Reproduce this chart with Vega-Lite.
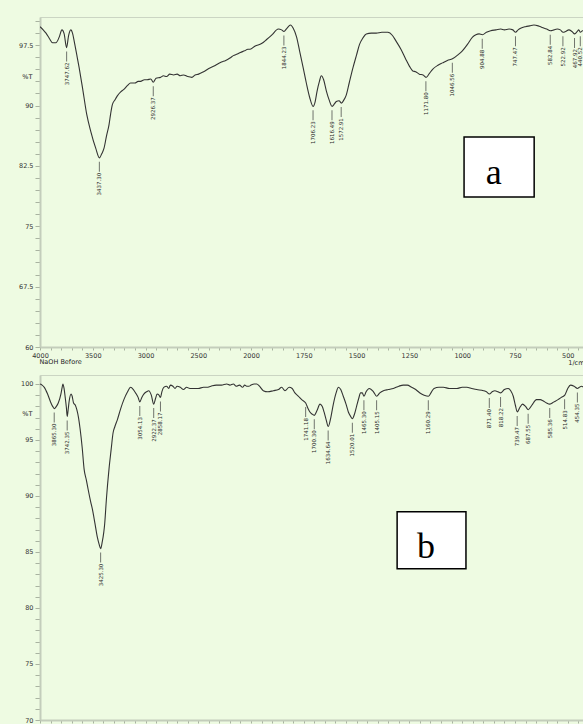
{
  "$schema": "https://vega.github.io/schema/vega-lite/v6.json",
  "padding": {"top": 16, "left": 0, "right": 0, "bottom": 0},
  "spacing": 28,
  "bounds": "flush",
  "datasets": {
    "specA": [
      {"wn":4000,"t":99.8},{"wn":3970,"t":99.4},{"wn":3943,"t":99.0},{"wn":3910,"t":98.3},{"wn":3880,"t":97.8},{"wn":3849,"t":97.8},{"wn":3818,"t":98.5},{"wn":3792,"t":99.4},{"wn":3771,"t":98.9},{"wn":3748,"t":97.2},{"wn":3729,"t":98.7},{"wn":3708,"t":99.4},{"wn":3690,"t":98.9},{"wn":3676,"t":98.0},{"wn":3650,"t":96.2},{"wn":3629,"t":94.7},{"wn":3597,"t":92.2},{"wn":3557,"t":88.9},{"wn":3519,"t":86.8},{"wn":3472,"t":84.7},{"wn":3437,"t":83.5},{"wn":3415,"t":84.0},{"wn":3393,"t":84.7},{"wn":3370,"t":86.2},{"wn":3346,"t":87.6},{"wn":3330,"t":89.0},{"wn":3314,"t":90.1},{"wn":3290,"t":90.7},{"wn":3267,"t":91.2},{"wn":3235,"t":91.7},{"wn":3205,"t":92.0},{"wn":3170,"t":92.5},{"wn":3142,"t":92.8},{"wn":3100,"t":92.8},{"wn":3070,"t":93.0},{"wn":3047,"t":93.0},{"wn":3010,"t":93.2},{"wn":2984,"t":93.2},{"wn":2950,"t":93.3},{"wn":2927,"t":92.9},{"wn":2900,"t":93.4},{"wn":2858,"t":93.5},{"wn":2830,"t":93.7},{"wn":2800,"t":93.6},{"wn":2770,"t":93.9},{"wn":2733,"t":93.8},{"wn":2700,"t":93.9},{"wn":2670,"t":93.7},{"wn":2639,"t":93.8},{"wn":2600,"t":93.6},{"wn":2560,"t":93.5},{"wn":2530,"t":93.8},{"wn":2497,"t":93.9},{"wn":2450,"t":94.2},{"wn":2400,"t":94.6},{"wn":2350,"t":94.9},{"wn":2324,"t":95.1},{"wn":2280,"t":95.4},{"wn":2240,"t":95.6},{"wn":2200,"t":95.9},{"wn":2167,"t":96.2},{"wn":2130,"t":96.4},{"wn":2100,"t":96.6},{"wn":2060,"t":96.8},{"wn":2030,"t":97.0},{"wn":2009,"t":97.0},{"wn":1980,"t":97.4},{"wn":1950,"t":97.7},{"wn":1926,"t":98.2},{"wn":1900,"t":98.8},{"wn":1871,"t":99.5},{"wn":1855,"t":99.4},{"wn":1844,"t":99.2},{"wn":1830,"t":99.6},{"wn":1813,"t":100.0},{"wn":1800,"t":99.6},{"wn":1784,"t":98.5},{"wn":1770,"t":96.8},{"wn":1753,"t":94.7},{"wn":1738,"t":92.8},{"wn":1722,"t":91.0},{"wn":1706,"t":89.9},{"wn":1696,"t":90.5},{"wn":1687,"t":91.8},{"wn":1676,"t":93.0},{"wn":1667,"t":93.7},{"wn":1656,"t":93.2},{"wn":1643,"t":91.8},{"wn":1630,"t":90.7},{"wn":1616,"t":89.9},{"wn":1605,"t":90.2},{"wn":1596,"t":90.5},{"wn":1583,"t":90.6},{"wn":1572,"t":90.3},{"wn":1560,"t":90.7},{"wn":1549,"t":91.3},{"wn":1535,"t":92.8},{"wn":1517,"t":94.7},{"wn":1500,"t":96.3},{"wn":1486,"t":97.6},{"wn":1470,"t":98.4},{"wn":1454,"t":98.9},{"wn":1430,"t":99.0},{"wn":1407,"t":99.0},{"wn":1380,"t":99.1},{"wn":1352,"t":99.1},{"wn":1330,"t":98.7},{"wn":1313,"t":98.0},{"wn":1290,"t":97.0},{"wn":1266,"t":95.7},{"wn":1250,"t":94.9},{"wn":1234,"t":94.3},{"wn":1220,"t":94.2},{"wn":1203,"t":93.9},{"wn":1185,"t":93.8},{"wn":1171,"t":93.5},{"wn":1155,"t":94.0},{"wn":1140,"t":94.5},{"wn":1115,"t":95.0},{"wn":1093,"t":95.3},{"wn":1070,"t":95.6},{"wn":1046,"t":95.8},{"wn":1020,"t":96.3},{"wn":999,"t":96.8},{"wn":975,"t":97.6},{"wn":951,"t":98.5},{"wn":935,"t":98.8},{"wn":920,"t":98.9},{"wn":904,"t":98.8},{"wn":885,"t":99.1},{"wn":865,"t":99.3},{"wn":840,"t":99.4},{"wn":817,"t":99.5},{"wn":800,"t":99.4},{"wn":778,"t":99.5},{"wn":760,"t":99.4},{"wn":747,"t":99.1},{"wn":735,"t":99.4},{"wn":723,"t":99.6},{"wn":700,"t":99.8},{"wn":680,"t":99.9},{"wn":660,"t":100.0},{"wn":640,"t":99.9},{"wn":621,"t":99.7},{"wn":600,"t":99.5},{"wn":582,"t":99.3},{"wn":565,"t":99.4},{"wn":550,"t":99.5},{"wn":535,"t":99.4},{"wn":522,"t":99.1},{"wn":510,"t":99.2},{"wn":495,"t":99.4},{"wn":480,"t":99.2},{"wn":467,"t":98.9},{"wn":455,"t":99.2},{"wn":448,"t":99.4},{"wn":440,"t":99.1},{"wn":430,"t":99.3},{"wn":420,"t":99.3}
    ],
    "peaksA": [
      {"wn":3747.62,"t":97.2},{"wn":3437.30,"t":83.5},{"wn":2926.37,"t":92.9},{"wn":1844.23,"t":99.2},{"wn":1706.23,"t":89.9},{"wn":1616.49,"t":89.9},{"wn":1572.91,"t":90.3},{"wn":1171.80,"t":93.5},{"wn":1046.56,"t":95.8},{"wn":904.88,"t":98.8},{"wn":747.47,"t":99.1},{"wn":582.84,"t":99.3},{"wn":522.92,"t":99.1},{"wn":467.92,"t":98.9},{"wn":440.52,"t":99.1}
    ],
    "specB": [
      {"wn":4000,"t":100.0},{"wn":3980,"t":99.9},{"wn":3959,"t":99.7},{"wn":3928,"t":99.1},{"wn":3896,"t":98.3},{"wn":3880,"t":98.0},{"wn":3865,"t":97.8},{"wn":3845,"t":98.0},{"wn":3827,"t":98.3},{"wn":3802,"t":99.1},{"wn":3790,"t":99.7},{"wn":3783,"t":100.0},{"wn":3772,"t":99.6},{"wn":3761,"t":98.8},{"wn":3750,"t":97.9},{"wn":3742,"t":97.1},{"wn":3732,"t":97.8},{"wn":3723,"t":98.5},{"wn":3705,"t":99.1},{"wn":3695,"t":98.9},{"wn":3682,"t":98.3},{"wn":3665,"t":98.1},{"wn":3651,"t":97.7},{"wn":3635,"t":97.0},{"wn":3620,"t":96.0},{"wn":3600,"t":94.3},{"wn":3582,"t":92.4},{"wn":3560,"t":91.4},{"wn":3544,"t":90.6},{"wn":3520,"t":89.5},{"wn":3503,"t":88.8},{"wn":3480,"t":87.6},{"wn":3456,"t":86.3},{"wn":3440,"t":85.7},{"wn":3425,"t":85.3},{"wn":3410,"t":85.9},{"wn":3395,"t":86.8},{"wn":3387,"t":87.5},{"wn":3370,"t":89.8},{"wn":3346,"t":92.4},{"wn":3325,"t":94.2},{"wn":3308,"t":95.6},{"wn":3290,"t":96.2},{"wn":3267,"t":96.8},{"wn":3235,"t":97.8},{"wn":3205,"t":98.6},{"wn":3170,"t":99.3},{"wn":3142,"t":99.7},{"wn":3115,"t":99.5},{"wn":3094,"t":99.2},{"wn":3070,"t":98.8},{"wn":3054,"t":98.4},{"wn":3035,"t":98.8},{"wn":3016,"t":99.1},{"wn":2990,"t":99.3},{"wn":2969,"t":99.4},{"wn":2945,"t":99.0},{"wn":2922,"t":98.2},{"wn":2905,"t":98.7},{"wn":2890,"t":99.1},{"wn":2872,"t":99.0},{"wn":2858,"t":98.8},{"wn":2845,"t":99.3},{"wn":2827,"t":99.7},{"wn":2800,"t":99.8},{"wn":2780,"t":99.6},{"wn":2764,"t":99.9},{"wn":2740,"t":99.8},{"wn":2720,"t":99.6},{"wn":2700,"t":99.8},{"wn":2670,"t":99.7},{"wn":2640,"t":99.5},{"wn":2610,"t":99.7},{"wn":2580,"t":99.6},{"wn":2544,"t":99.6},{"wn":2500,"t":99.6},{"wn":2450,"t":99.7},{"wn":2418,"t":99.7},{"wn":2380,"t":99.8},{"wn":2330,"t":99.9},{"wn":2280,"t":99.9},{"wn":2230,"t":100.0},{"wn":2200,"t":99.9},{"wn":2167,"t":100.0},{"wn":2140,"t":99.8},{"wn":2110,"t":99.9},{"wn":2080,"t":99.7},{"wn":2060,"t":99.9},{"wn":2041,"t":99.8},{"wn":2020,"t":99.8},{"wn":2000,"t":99.9},{"wn":1985,"t":100.0},{"wn":1973,"t":100.0},{"wn":1960,"t":99.8},{"wn":1942,"t":99.4},{"wn":1920,"t":99.3},{"wn":1894,"t":99.4},{"wn":1870,"t":99.5},{"wn":1855,"t":99.7},{"wn":1839,"t":99.4},{"wn":1819,"t":99.7},{"wn":1805,"t":99.6},{"wn":1792,"t":99.2},{"wn":1775,"t":98.9},{"wn":1760,"t":98.6},{"wn":1741,"t":98.3},{"wn":1730,"t":97.8},{"wn":1721,"t":97.5},{"wn":1710,"t":97.3},{"wn":1700,"t":97.2},{"wn":1688,"t":97.6},{"wn":1673,"t":98.2},{"wn":1663,"t":98.0},{"wn":1654,"t":97.5},{"wn":1644,"t":96.8},{"wn":1634,"t":96.2},{"wn":1622,"t":97.0},{"wn":1610,"t":98.2},{"wn":1597,"t":99.2},{"wn":1586,"t":99.7},{"wn":1575,"t":99.5},{"wn":1563,"t":98.9},{"wn":1550,"t":98.2},{"wn":1539,"t":97.5},{"wn":1528,"t":97.1},{"wn":1520,"t":96.9},{"wn":1510,"t":97.3},{"wn":1500,"t":98.0},{"wn":1490,"t":98.7},{"wn":1481,"t":99.2},{"wn":1473,"t":99.2},{"wn":1465,"t":98.9},{"wn":1455,"t":99.3},{"wn":1440,"t":99.6},{"wn":1420,"t":99.3},{"wn":1405,"t":98.9},{"wn":1390,"t":99.2},{"wn":1373,"t":99.4},{"wn":1350,"t":99.5},{"wn":1326,"t":99.6},{"wn":1300,"t":99.8},{"wn":1279,"t":99.9},{"wn":1260,"t":99.9},{"wn":1239,"t":99.7},{"wn":1220,"t":99.5},{"wn":1200,"t":99.2},{"wn":1180,"t":99.0},{"wn":1160,"t":98.9},{"wn":1145,"t":99.3},{"wn":1133,"t":99.6},{"wn":1110,"t":99.7},{"wn":1089,"t":99.7},{"wn":1060,"t":99.6},{"wn":1025,"t":99.6},{"wn":1000,"t":99.7},{"wn":978,"t":99.7},{"wn":955,"t":99.6},{"wn":931,"t":99.5},{"wn":899,"t":99.4},{"wn":885,"t":99.3},{"wn":871,"t":99.1},{"wn":858,"t":99.3},{"wn":845,"t":99.4},{"wn":830,"t":99.3},{"wn":818,"t":99.2},{"wn":800,"t":99.5},{"wn":782,"t":99.6},{"wn":770,"t":99.4},{"wn":758,"t":98.9},{"wn":748,"t":98.1},{"wn":739,"t":97.5},{"wn":727,"t":97.9},{"wn":714,"t":98.2},{"wn":700,"t":98.0},{"wn":687,"t":97.7},{"wn":670,"t":98.1},{"wn":648,"t":98.6},{"wn":630,"t":98.6},{"wn":617,"t":98.5},{"wn":600,"t":98.3},{"wn":585,"t":98.2},{"wn":565,"t":98.4},{"wn":546,"t":98.6},{"wn":530,"t":98.8},{"wn":514,"t":99.0},{"wn":500,"t":99.6},{"wn":487,"t":99.9},{"wn":470,"t":99.8},{"wn":454,"t":99.6},{"wn":445,"t":99.7},{"wn":435,"t":99.8},{"wn":420,"t":99.6}
    ],
    "peaksB": [
      {"wn":3865.30,"t":97.8},{"wn":3742.35,"t":97.1},{"wn":3425.30,"t":85.3},{"wn":3054.13,"t":98.4},{"wn":2922.37,"t":98.2},{"wn":2858.17,"t":98.8},{"wn":1741.18,"t":98.3},{"wn":1700.30,"t":97.2},{"wn":1634.64,"t":96.2},{"wn":1520.01,"t":96.9},{"wn":1465.30,"t":98.9},{"wn":1405.15,"t":98.9},{"wn":1160.29,"t":98.9},{"wn":871.40,"t":99.1},{"wn":818.22,"t":99.2},{"wn":739.47,"t":97.5},{"wn":687.55,"t":97.7},{"wn":585.36,"t":98.2},{"wn":514.83,"t":99.0},{"wn":454.35,"t":99.6}
    ]
  },
  "vconcat": [
    {
      "width": 544,
      "height": 330,
      "resolve": {"axis": {"x": "independent"}},
      "layer": [
        {
          "data": {"name": "specA"},
          "mark": {"type": "line", "color": "#333333", "strokeWidth": 1.1, "clip": true, "interpolate": "monotone"},
          "encoding": {
            "x": {"field": "wn", "type": "quantitative",
              "scale": {"domain": [4000, 2000, 423], "range": [0, 211, 544], "nice": false, "zero": false},
              "axis": {
                "values": [4000,3900,3800,3700,3600,3500,3400,3300,3200,3100,3000,2900,2800,2700,2600,2500,2400,2300,2200,2100,2000,1950,1900,1850,1800,1750,1700,1650,1600,1550,1500,1450,1400,1350,1300,1250,1200,1150,1100,1050,1000,950,900,850,800,750,700,650,600,550,500,450],
                "tickCount": 500,
                "labelExpr": "(datum.value >= 2000 ? datum.value % 500 == 0 : datum.value % 250 == 0) ? format(datum.value, 'd') : ''",
                "labelOverlap": false,
                "title": "NaOH Before", "titleAnchor": "start", "titleAlign": "left", "titleX": -1, "titleY": 11, "titleBaseline": "top"
              }},
            "y": {"field": "t", "type": "quantitative",
              "scale": {"domain": [60, 101], "nice": false, "zero": false},
              "axis": {
                "values": [60,61.5,63,64.5,66,67.5,69,70.5,72,73.5,75,76.5,78,79.5,81,82.5,84,85.5,87,88.5,90,91.5,93,94.5,96,97.5,99,100.5],
                "tickCount": 500,
                "labelExpr": "datum.value % 7.5 == 0 ? format(datum.value, '~g') : ''",
                "labelOverlap": false,
                "title": "%T", "titleAngle": 0, "titleAlign": "right", "titleBaseline": "middle", "titleX": -8, "titleY": 59
              }}
          }
        },
        {
          "data": {"name": "peaksA"},
          "mark": {"type": "tick", "orient": "vertical", "size": 10, "thickness": 1, "yOffset": 9, "color": "#3a3a3a"},
          "encoding": {
            "x": {"field": "wn", "type": "quantitative",
              "axis": {"title": "1/cm", "orient": "bottom", "labels": false, "ticks": false, "domain": false, "grid": false,
                "titleAnchor": "end", "titleAlign": "right", "titleX": 544, "titleY": 12, "titleBaseline": "top"}},
            "y": {"field": "t", "type": "quantitative"}
          }
        },
        {
          "data": {"name": "peaksA"},
          "mark": {"type": "text", "angle": 270, "align": "right", "baseline": "middle", "fontSize": 5.5, "yOffset": 15, "color": "#2a2a2a", "font": "DejaVu Sans"},
          "encoding": {
            "x": {"field": "wn", "type": "quantitative", "axis": null},
            "y": {"field": "t", "type": "quantitative"},
            "text": {"field": "wn", "type": "quantitative", "format": ".2f"}
          }
        },
        {
          "data": {"values": [{}]},
          "mark": {"type": "rect", "fill": "white", "stroke": "black", "strokeWidth": 1.5},
          "encoding": {
            "x": {"datum": 991, "axis": null}, "x2": {"datum": 659},
            "y": {"datum": 86.1}, "y2": {"datum": 78.65}
          }
        },
        {
          "data": {"values": [{}]},
          "mark": {"type": "text", "text": "a", "font": "Liberation Serif", "fontSize": 36, "align": "center", "baseline": "alphabetic", "color": "black"},
          "encoding": {"x": {"datum": 850, "axis": null}, "y": {"datum": 80.3}}
        }
      ]
    },
    {
      "width": 544,
      "height": 345,
      "layer": [
        {
          "data": {"name": "specB"},
          "mark": {"type": "line", "color": "#333333", "strokeWidth": 1.1, "clip": true, "interpolate": "monotone"},
          "encoding": {
            "x": {"field": "wn", "type": "quantitative",
              "scale": {"domain": [4000, 2000, 423], "range": [0, 211, 544], "nice": false, "zero": false},
              "axis": {
                "values": [4000,3900,3800,3700,3600,3500,3400,3300,3200,3100,3000,2900,2800,2700,2600,2500,2400,2300,2200,2100,2000,1950,1900,1850,1800,1750,1700,1650,1600,1550,1500,1450,1400,1350,1300,1250,1200,1150,1100,1050,1000,950,900,850,800,750,700,650,600,550,500,450],
                "tickCount": 500,
                "labelExpr": "(datum.value >= 2000 ? datum.value % 500 == 0 : datum.value % 250 == 0) ? format(datum.value, 'd') : ''",
                "labelOverlap": false,
                "title": null
              }},
            "y": {"field": "t", "type": "quantitative",
              "scale": {"domain": [70, 100.8], "nice": false, "zero": false},
              "axis": {
                "values": [70,71,72,73,74,75,76,77,78,79,80,81,82,83,84,85,86,87,88,89,90,91,92,93,94,95,96,97,98,99,100],
                "tickCount": 500,
                "labelExpr": "datum.value % 5 == 0 ? format(datum.value, 'd') : ''",
                "labelOverlap": false,
                "title": "%T", "titleAngle": 0, "titleAlign": "right", "titleBaseline": "middle", "titleX": -8, "titleY": 38
              }}
          }
        },
        {
          "data": {"name": "peaksB"},
          "mark": {"type": "tick", "orient": "vertical", "size": 10, "thickness": 1, "yOffset": 9, "color": "#3a3a3a"},
          "encoding": {
            "x": {"field": "wn", "type": "quantitative"},
            "y": {"field": "t", "type": "quantitative"}
          }
        },
        {
          "data": {"name": "peaksB"},
          "mark": {"type": "text", "angle": 270, "align": "right", "baseline": "middle", "fontSize": 5.5, "yOffset": 15, "color": "#2a2a2a", "font": "DejaVu Sans"},
          "encoding": {
            "x": {"field": "wn", "type": "quantitative"},
            "y": {"field": "t", "type": "quantitative"},
            "text": {"field": "wn", "type": "quantitative", "format": ".2f"}
          }
        },
        {
          "data": {"values": [{}]},
          "mark": {"type": "rect", "fill": "white", "stroke": "black", "strokeWidth": 1.5},
          "encoding": {
            "x": {"datum": 1308}, "x2": {"datum": 982},
            "y": {"datum": 88.6}, "y2": {"datum": 83.5}
          }
        },
        {
          "data": {"values": [{}]},
          "mark": {"type": "text", "text": "b", "font": "Liberation Serif", "fontSize": 36, "align": "center", "baseline": "alphabetic", "color": "black"},
          "encoding": {"x": {"datum": 1171}, "y": {"datum": 84.5}}
        }
      ]
    }
  ],
  "config": {
    "background": "#eefbe2",
    "font": "DejaVu Sans",
    "view": {"stroke": "#cbd5c3", "strokeWidth": 1},
    "axis": {
      "domainColor": "#c3cdbb",
      "domainWidth": 2,
      "tickColor": "#a9b3a1",
      "tickSize": 5,
      "tickWidth": 1,
      "grid": false,
      "labelFont": "DejaVu Sans",
      "labelFontSize": 6.5,
      "labelColor": "#333333",
      "labelPadding": 2,
      "labelOverlap": false,
      "labelBound": false,
      "titleFont": "DejaVu Sans",
      "titleFontSize": 6.5,
      "titleFontWeight": "normal",
      "titleColor": "#222222",
      "minExtent": 39,
      "maxExtent": 39
    },
    "axisX": {"tickSize": 3, "minExtent": 10, "maxExtent": 10, "labelFlush": false}
  }
}
